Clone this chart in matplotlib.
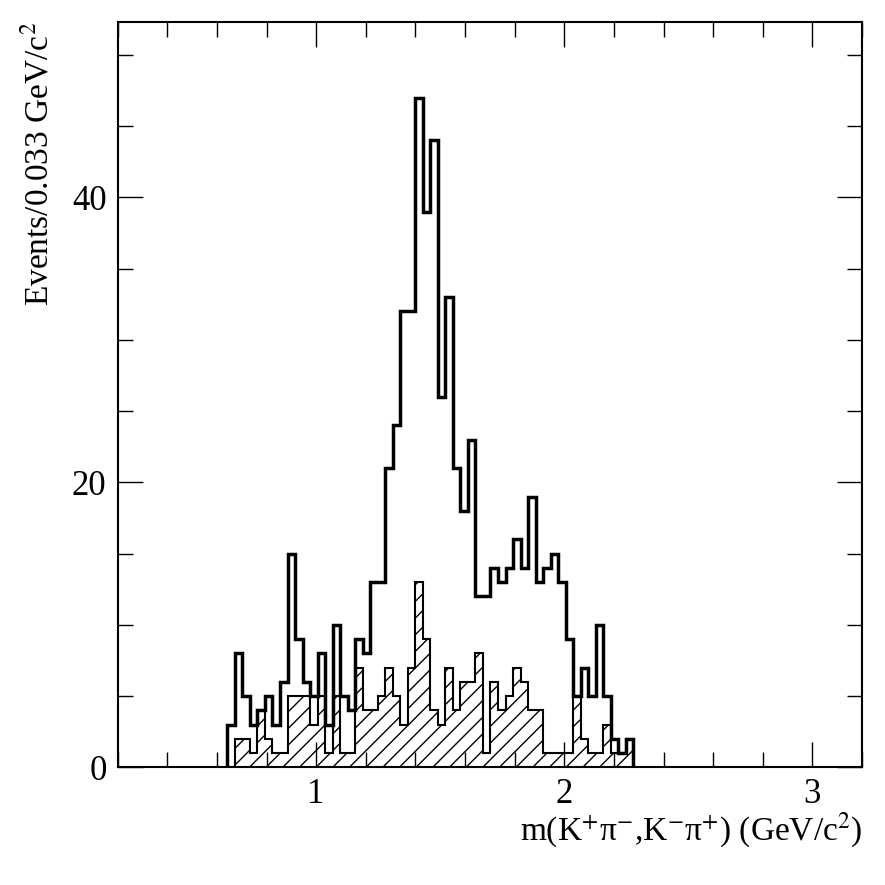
import numpy as np
import matplotlib
matplotlib.use("Agg")
import matplotlib.pyplot as plt
from matplotlib.ticker import MultipleLocator

# histogram binning
lo = 0.642
bw = 0.0303
nbins = 54

total = [3, 8, 5, 3, 4, 5, 3, 6, 15, 9, 6, 5, 8, 3, 10, 5, 4, 9, 8, 13,
         13, 21, 24, 32, 32, 47, 39, 44, 26, 33, 21, 18, 23, 12, 12, 14, 13, 14, 16, 14,
         19, 13, 14, 15, 13, 9, 5, 7, 5, 10, 5, 2, 1, 2]
hatched = [0, 2, 2, 1, 4, 2, 1, 1, 5, 5, 5, 3, 5, 1, 5, 1, 1, 7, 4, 4,
           5, 7, 5, 3, 7, 13, 9, 4, 3, 7, 4, 6, 6, 8, 1, 6, 4, 5, 7, 6,
           4, 4, 1, 1, 1, 1, 5, 2, 1, 1, 3, 1, 1, 2]

edges = lo + bw * np.arange(nbins + 1)

plt.rcParams['font.family'] = ['Liberation Serif', 'DejaVu Serif']
plt.rcParams['mathtext.fontset'] = 'stix'
plt.rcParams['hatch.linewidth'] = 1.0

fig = plt.figure(figsize=(8.85, 8.85), dpi=100)
ax = fig.add_axes([0.133, 0.133, 0.841, 0.842])

ax.stairs(hatched, edges, fill=True, facecolor='white', edgecolor='black', hatch='//', linewidth=0)
ax.stairs(hatched, edges, color='black', linewidth=1.5)
ax.stairs(total, edges, color='black', linewidth=2.5, baseline=0)

ax.set_xlim(0.2, 3.2)
ax.set_ylim(0, 52.3)
ax.xaxis.set_major_locator(MultipleLocator(1))
ax.xaxis.set_minor_locator(MultipleLocator(0.2))
ax.yaxis.set_major_locator(MultipleLocator(20))
ax.yaxis.set_minor_locator(MultipleLocator(5))
ax.tick_params(which='both', direction='in', top=True, right=True, width=1)
ax.tick_params(which='major', length=18, labelsize=25, pad=8)
ax.tick_params(which='minor', length=11)
for s in ax.spines.values():
    s.set_linewidth(1.5)

ax.set_xlabel('m(K$^{+}$π$^{-}$,K$^{-}$π$^{+}$) (GeV/c$^{2}$)', fontsize=24, loc='right', labelpad=0)
ax.set_ylabel('Events/0.033 GeV/c$^{2}$', fontsize=24, loc='top', labelpad=12)

fig.savefig('out.png', dpi=100)
